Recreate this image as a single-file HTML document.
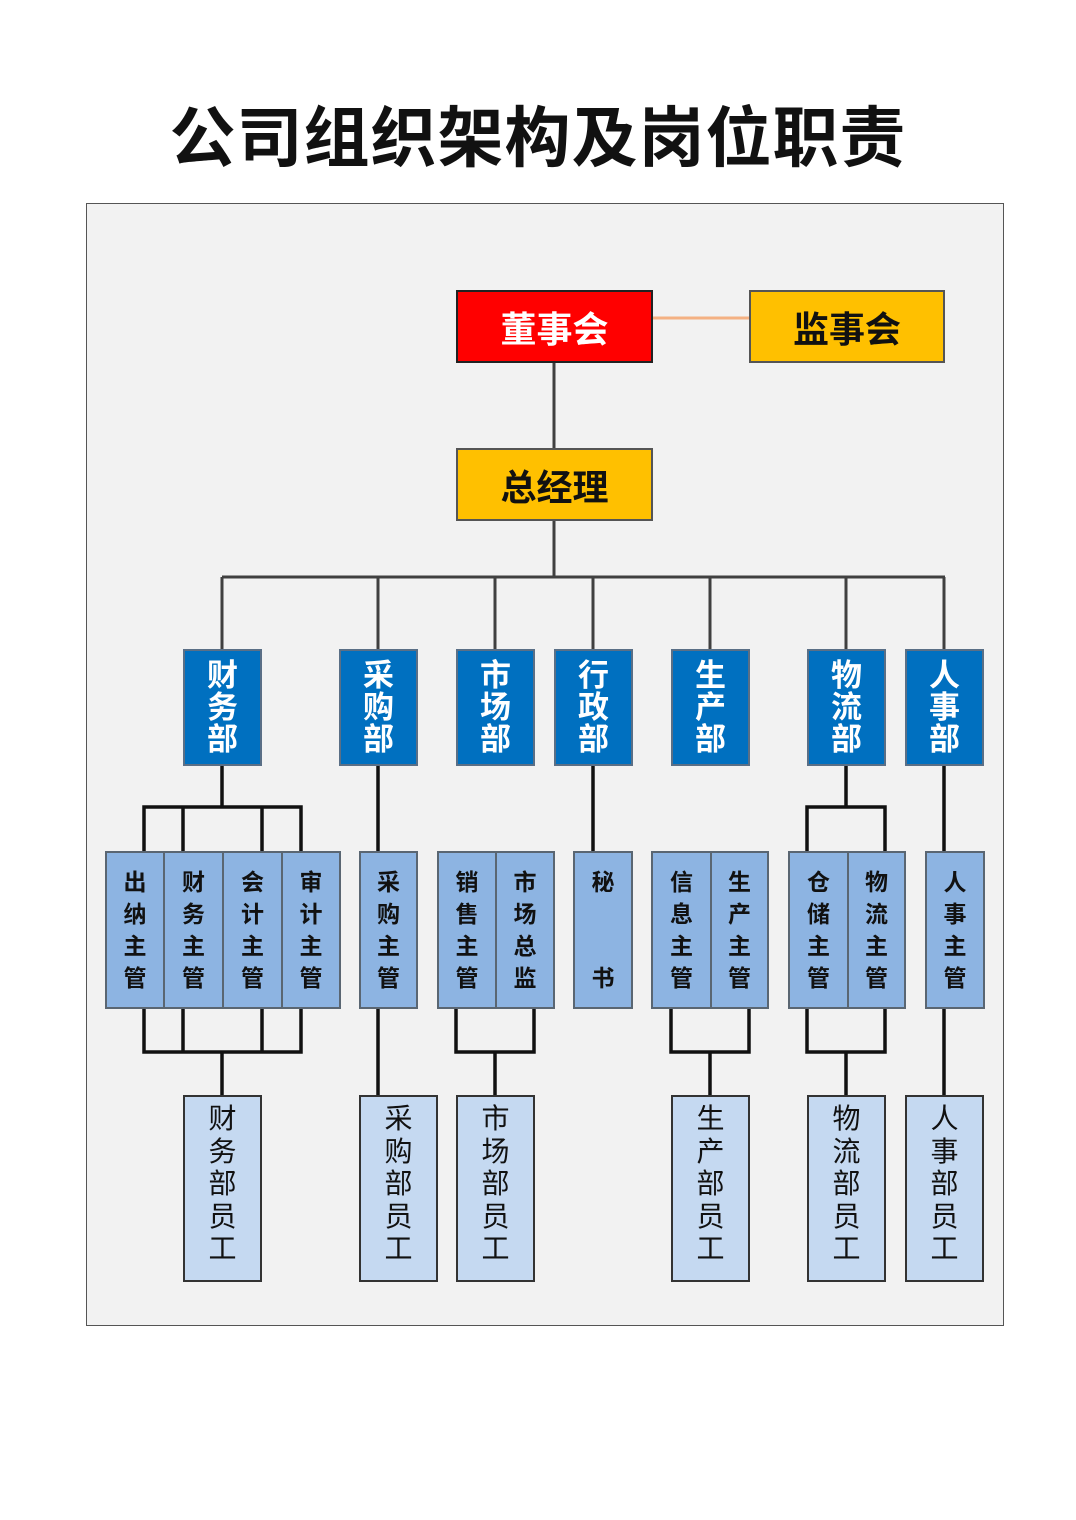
<!DOCTYPE html>
<html><head><meta charset="utf-8"><style>
body{margin:0;width:1076px;height:1520px;background:#fff;position:relative;font-family:"Liberation Sans","Noto Sans CJK SC",sans-serif;overflow:hidden}
.a{position:absolute;box-sizing:border-box;display:flex;align-items:center;justify-content:center;text-align:center}
.t{left:0;width:1076px;top:88px;height:90px;font-size:66px;font-weight:bold;color:#111;letter-spacing:1px}
.frame{position:absolute;left:86px;top:203px;width:918px;height:1123px;box-sizing:border-box;border:1.5px solid #555;background:#f2f2f2}
.top{font-size:36px;font-weight:bold;border:2px solid #555}
.d{background:#0070c0;color:#fff;border:2px solid #5a6f86;font-size:31px;font-weight:bold;line-height:32px;top:649px;height:117px;width:79px;flex-direction:column}
.s{background:#8db4e2;border:2px solid #5a6672;font-size:23px;font-weight:bold;line-height:32px;top:851px;height:158px;flex-direction:column;color:#111}
.b{background:#c5d9f1;border:2px solid #333;font-size:28px;line-height:32.5px;top:1095px;height:187px;width:79px;flex-direction:column;justify-content:flex-start;padding-top:6px;color:#111}
svg{position:absolute;left:0;top:0}
</style></head><body>
<div class="a t">公司组织架构及岗位职责</div>
<div class="frame"></div>
<svg width="1076" height="1520">
<g stroke="#404040" stroke-width="3" fill="none">
<line x1="554" y1="362" x2="554" y2="448"/>
<line x1="554" y1="520" x2="554" y2="577"/>
<line x1="222" y1="577" x2="945" y2="577"/>
<line x1="222" y1="577" x2="222" y2="649"/><line x1="378" y1="577" x2="378" y2="649"/><line x1="495" y1="577" x2="495" y2="649"/><line x1="593" y1="577" x2="593" y2="649"/><line x1="710" y1="577" x2="710" y2="649"/><line x1="846" y1="577" x2="846" y2="649"/><line x1="944" y1="577" x2="944" y2="649"/>
</g>
<line x1="652" y1="318" x2="749" y2="318" stroke="#f4b183" stroke-width="3"/>
<g stroke="#111" stroke-width="3.5" fill="none">
<path d="M222 765V807M144 851V807H301V851M183 807V851M262 807V851"/>
<path d="M144 1008V1052H301V1008M183 1008V1052M262 1008V1052M222 1052V1095"/>
<path d="M378 765V851M378 1008V1095"/>
<path d="M456 1008V1052H534V1008M495 1052V1095"/>
<path d="M593 765V851"/>
<path d="M671 1008V1052H749V1008M710 1052V1095"/>
<path d="M846 765V807M807 851V807H885V851"/>
<path d="M807 1008V1052H885V1008M846 1052V1095"/>
<path d="M944 765V851M944 1008V1095"/>
</g>
</svg>
<div class="a top" style="left:456px;top:290px;width:197px;height:73px;background:#ff0000;color:#fff;border-color:#222">董事会</div>
<div class="a top" style="left:749px;top:290px;width:196px;height:73px;background:#ffc000;color:#111">监事会</div>
<div class="a top" style="left:456px;top:448px;width:197px;height:73px;background:#ffc000;color:#111">总经理</div>

<div class="a d" style="left:183px">财<br>务<br>部</div>
<div class="a d" style="left:339px">采<br>购<br>部</div>
<div class="a d" style="left:456px">市<br>场<br>部</div>
<div class="a d" style="left:554px">行<br>政<br>部</div>
<div class="a d" style="left:671px">生<br>产<br>部</div>
<div class="a d" style="left:807px">物<br>流<br>部</div>
<div class="a d" style="left:905px">人<br>事<br>部</div>

<div class="a s" style="left:105px;width:60px">出<br>纳<br>主<br>管</div>
<div class="a s" style="left:163px;width:61px">财<br>务<br>主<br>管</div>
<div class="a s" style="left:222px;width:61px">会<br>计<br>主<br>管</div>
<div class="a s" style="left:281px;width:60px">审<br>计<br>主<br>管</div>
<div class="a s" style="left:359px;width:59px">采<br>购<br>主<br>管</div>
<div class="a s" style="left:437px;width:60px">销<br>售<br>主<br>管</div>
<div class="a s" style="left:495px;width:60px">市<br>场<br>总<br>监</div>
<div class="a s" style="left:573px;width:60px">秘<br>&nbsp;<br>&nbsp;<br>书</div>
<div class="a s" style="left:651px;width:61px">信<br>息<br>主<br>管</div>
<div class="a s" style="left:710px;width:59px">生<br>产<br>主<br>管</div>
<div class="a s" style="left:788px;width:61px">仓<br>储<br>主<br>管</div>
<div class="a s" style="left:847px;width:59px">物<br>流<br>主<br>管</div>
<div class="a s" style="left:925px;width:60px">人<br>事<br>主<br>管</div>

<div class="a b" style="left:183px">财<br>务<br>部<br>员<br>工</div>
<div class="a b" style="left:359px">采<br>购<br>部<br>员<br>工</div>
<div class="a b" style="left:456px">市<br>场<br>部<br>员<br>工</div>
<div class="a b" style="left:671px">生<br>产<br>部<br>员<br>工</div>
<div class="a b" style="left:807px">物<br>流<br>部<br>员<br>工</div>
<div class="a b" style="left:905px">人<br>事<br>部<br>员<br>工</div>
</body></html>
